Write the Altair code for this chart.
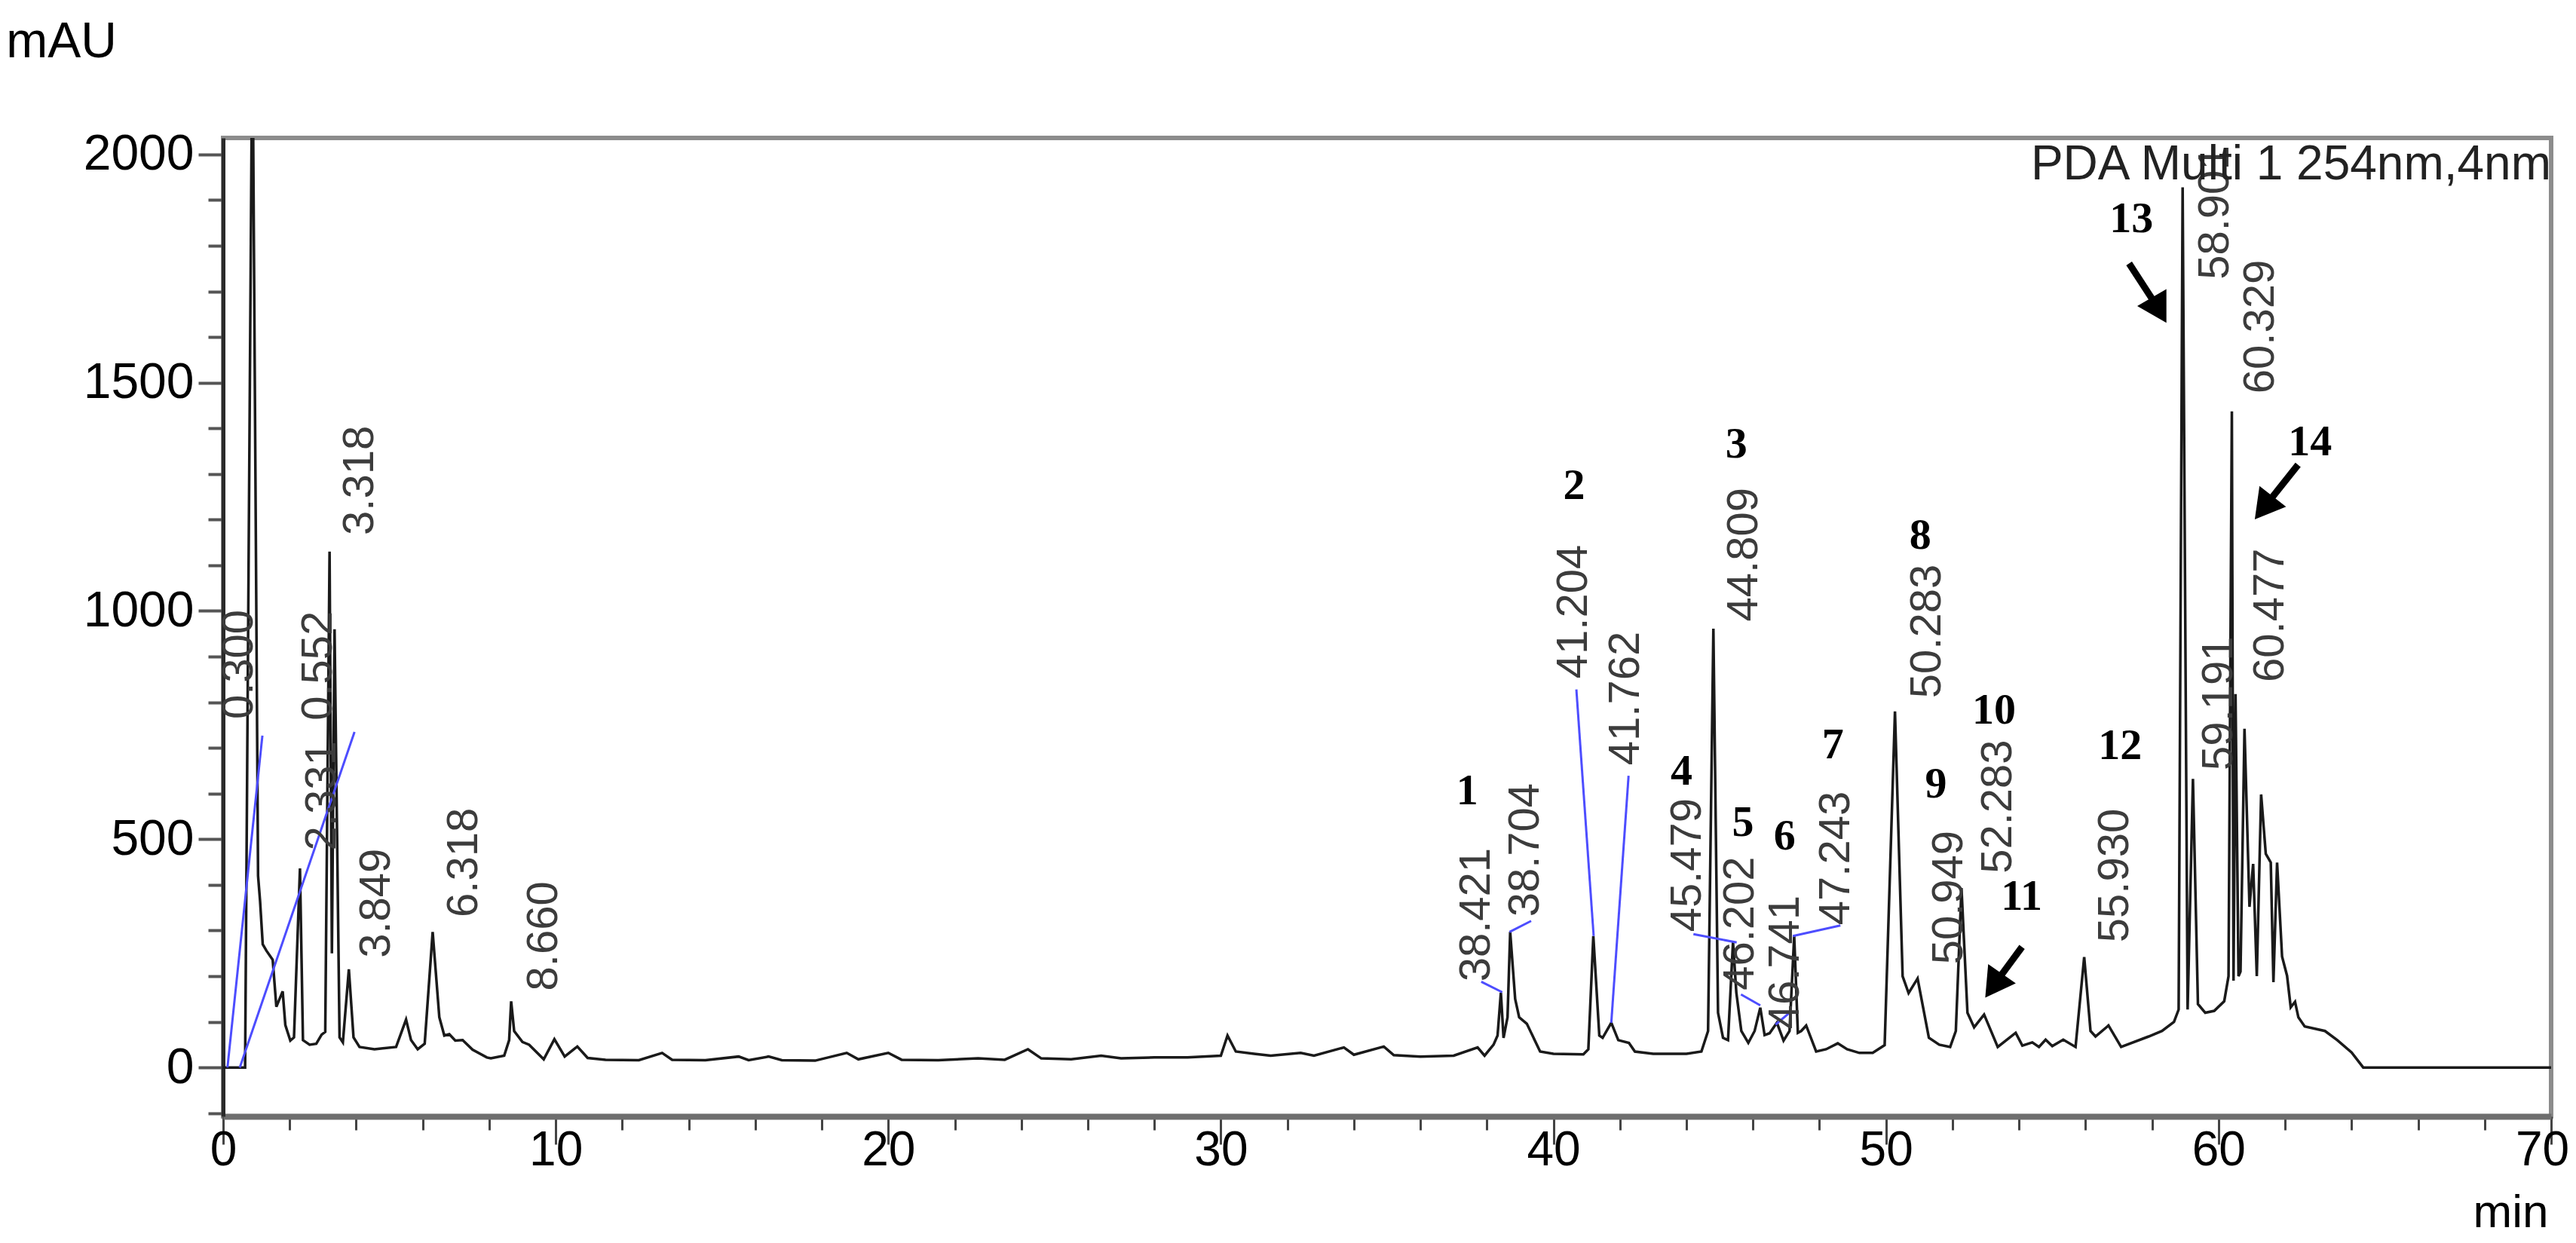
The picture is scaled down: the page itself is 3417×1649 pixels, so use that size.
import altair as alt
import pandas as pd

# ---- chromatogram trace ----
time_min = [0.00, 0.66, 0.88, 1.05, 1.11, 1.19, 1.30, 1.49, 1.60, 1.79, 1.87, 2.02, 2.13, 2.31, 2.40,
            2.60, 2.80, 2.96, 3.07, 3.20, 3.27, 3.35, 3.50, 3.60, 3.78, 3.92, 4.10, 4.55, 5.20, 5.50,
            5.65, 5.85, 6.06, 6.30, 6.50, 6.65, 6.80, 6.98, 7.20, 7.50, 7.93, 8.05, 8.45, 8.60, 8.66,
            8.75, 9.00, 9.20,
            9.64, 9.96, 10.27, 10.65, 10.96, 11.5, 12.5, 13.2, 13.5, 14.5, 15.5, 15.8, 16.4, 16.8,
            17.8, 18.75, 19.1, 20.0, 20.4, 21.5, 22.7, 23.5, 24.2, 24.6, 25.5, 26.4, 27.0, 28.0, 29.0,
            30.0, 30.2, 30.45, 31.0, 31.5, 32.4, 32.8, 33.7, 34.0, 34.9, 35.2, 36.0, 37.0, 37.72,
            37.93, 38.2, 38.32, 38.42, 38.50, 38.62, 38.70, 38.85, 38.97, 39.2, 39.6, 40.0, 40.9,
            41.05, 41.20, 41.38, 41.48, 41.74, 41.95, 42.27, 42.45, 43.0, 44.0, 44.45, 44.65, 44.81,
            44.95, 45.10, 45.25, 45.40, 45.50, 45.65, 45.86, 46.05, 46.22, 46.35, 46.50, 46.72, 46.92,
            47.10, 47.24, 47.35, 47.45, 47.60, 47.90, 48.20, 48.55, 48.83, 49.20, 49.6, 49.96, 50.27,
            50.50, 50.68, 50.95, 51.29, 51.60, 51.93, 52.10, 52.27, 52.45, 52.65, 52.95, 53.36, 53.90,
            54.10, 54.4, 54.6, 54.8, 55.0, 55.33, 55.70, 55.96, 56.15, 56.30, 56.69, 57.07, 57.9, 58.3,
            58.66, 58.80, 58.92, 59.07, 59.23, 59.38, 59.60, 59.87, 60.17, 60.30, 60.40, 60.45, 60.51,
            60.60, 60.66, 60.78, 60.93, 61.04, 61.15, 61.28, 61.42, 61.57, 61.65, 61.76, 61.91, 62.06,
            62.17, 62.30, 62.40, 62.59, 63.2, 63.57, 64.0, 64.35, 70.0]
mau = [0, 0, 2300, 420, 365, 270, 256, 236, 133, 167, 93, 59, 66, 436, 60,
       50, 52, 72, 78, 1130, 250, 960, 66, 55, 215, 66, 45, 40, 45, 105,
       60, 40, 52, 297, 110, 70, 73, 59, 60, 39, 22, 20, 26, 60, 145,
       80, 56, 50,
       18, 62, 24, 46, 21, 17, 16, 32, 17, 16, 24, 16, 24, 16,
       15, 32, 18, 32, 17, 16, 20, 17, 40, 20, 18, 26, 20, 22, 22,
       26, 70, 35, 30, 26, 32, 26, 44, 28, 46, 27, 24, 26, 44,
       26, 50, 70, 164, 65, 110, 297, 150, 110, 96, 35, 30, 29,
       40, 288, 70, 65, 98, 60, 54, 35, 30, 30, 35, 80, 961,
       120, 65, 60, 275, 164, 80, 54, 80, 131, 71, 75, 98, 59,
       80, 288, 76, 80, 92, 35, 40, 53, 40, 32, 32, 49, 780,
       200, 163, 195, 65, 50, 45, 80, 393, 120, 88, 116, 45, 76,
       48, 55, 45, 61, 47, 61, 45, 242, 80, 68, 92, 45, 68, 80,
       100, 127, 1928, 127, 632, 139, 120, 124, 145, 200, 1437, 190, 818,
       200, 210, 742, 352, 446, 200, 598, 468, 449, 187, 449, 243, 201,
       132, 144, 110, 90, 80, 60, 33, 0, 0]

# ---- retention-time labels ----
rt_text = ["0.300", "0.552", "2.331", "3.318", "3.849", "6.318", "8.660", "38.421", "38.704",
           "41.204", "41.762", "44.809", "45.479", "46.202", "46.741", "47.243", "50.283",
           "50.949", "52.283", "55.930", "58.901", "59.191", "60.329", "60.477"]
rt_t = [0.50, 2.88, 2.99, 4.12, 4.62, 7.26, 9.66, 37.70, 39.18, 40.63, 42.19, 45.75, 44.05,
        45.64, 47.00, 48.50, 51.26, 51.90, 53.39, 56.90, 59.91, 60.03, 61.27, 61.57]
rt_v = [763, 760, 475, 1166, 240, 329, 168, 188, 330, 852, 662, 977, 297, 169, 84, 312, 809,
        226, 425, 274, 1726, 651, 1476, 844]

# ---- compound numbers ----
num_text = [str(i) for i in range(1, 15)]
num_t = [37.41, 40.62, 45.50, 43.85, 45.70, 46.95, 48.40, 51.03, 51.50, 53.25, 54.08, 57.04, 57.38, 62.75]
num_v = [604, 1273, 1364, 648, 535, 505, 705, 1164, 620, 781, 373, 703, 1858, 1369]

# ---- blue leader lines ----
lead_t1 = [0.13, 0.50, 37.83, 38.68, 40.69, 42.26, 44.21, 45.64, 46.68, 47.20]
lead_v1 = [0, 0, 188, 297, 828, 639, 292, 160, 94, 288]
lead_t2 = [1.18, 3.95, 38.46, 39.33, 41.21, 41.74, 45.51, 46.22, 47.13, 48.63]
lead_v2 = [727, 735, 165, 321, 288, 98, 274, 136, 122, 311]

# ---- arrows ----
arrow_tail_t = [54.09, 57.31, 62.39]
arrow_tail_v = [264, 1761, 1320]
arrow_head_t = [53.32, 58.14, 61.45]
arrow_head_v = [188, 1668, 1234]
arrow_angle = [215, 150, 218]

x_ticks = list(range(0, 72, 2))
y_ticks = list(range(-100, 2001, 100))

trace = pd.DataFrame({"t": time_min, "v": mau})
rt = pd.DataFrame({"label": rt_text, "t": rt_t, "v": rt_v})
nums = pd.DataFrame({"label": num_text, "t": num_t, "v": num_v})
leads = pd.DataFrame({"t": lead_t1, "v": lead_v1, "t2": lead_t2, "v2": lead_v2})
arrows = pd.DataFrame({"t": arrow_tail_t, "v": arrow_tail_v, "t2": arrow_head_t,
                       "v2": arrow_head_v, "angle": arrow_angle})
pda = pd.DataFrame({"label": ["PDA Multi 1 254nm,4nm"], "t": [70.0], "v": [1946]})

xscale = alt.Scale(domain=[0, 70], nice=False, zero=False)
yscale = alt.Scale(domain=[-107, 2036], nice=False, zero=False)

x_axis = alt.Axis(
    values=x_ticks, title="min", format="d",
    labelExpr="datum.value % 10 === 0 ? datum.label : ''",
    tickSize={"condition": {"test": "datum.value % 10 === 0", "value": 37}, "value": 18},
    labelOffset={"condition": {"test": "datum.value === 70", "value": -12}, "value": 0},
    labelPadding=-24, labelFontSize=64, labelFont="Liberation Sans", labelColor="#000",
    tickColor="#444", tickWidth=3, domainColor="#6e6e6e", domainWidth=8,
    titleFontSize=62, titleFont="Liberation Sans", titleFontWeight="normal", titleColor="#000",
    titleAnchor="end", titleAlign="right", titleBaseline="alphabetic", titleX=3084, titleY=146,
    grid=False, labelFlush=False,
)
y_axis = alt.Axis(
    values=y_ticks, title="mAU", format="d",
    labelExpr="(datum.value % 500 === 0 && datum.value >= 0) ? datum.label : ''",
    tickSize={"condition": {"test": "datum.value % 500 === 0", "value": 33}, "value": 20},
    labelPadding=6, labelFontSize=66, labelFont="Liberation Sans", labelColor="#000",
    tickColor="#555", tickWidth=4, domainColor="#2a2a2a", domainWidth=5,
    titleFontSize=66, titleFont="Liberation Sans", titleFontWeight="normal", titleColor="#000",
    titleAngle=0, titleAlign="center", titleBaseline="alphabetic", titleX=-215, titleY=-108,
    grid=False,
)

line = alt.Chart(trace).mark_line(clip=True, color="#1a1a1a", strokeWidth=3.5).encode(
    x=alt.X("t:Q", scale=xscale, axis=x_axis),
    y=alt.Y("v:Q", scale=yscale, axis=y_axis),
)

lead_layer = alt.Chart(leads).mark_rule(color="#4d4dff", strokeWidth=3).encode(
    x="t:Q", y="v:Q", x2="t2:Q", y2="v2:Q")

rt_layer = alt.Chart(rt).mark_text(angle=270, align="left", baseline="middle",
                                   font="Liberation Sans", fontSize=58, color="#3c3c3c").encode(
    x="t:Q", y="v:Q", text="label:N")

num_layer = alt.Chart(nums).mark_text(align="center", baseline="middle", font="Liberation Serif",
                                      fontWeight="bold", fontSize=58, color="#000").encode(
    x="t:Q", y="v:Q", text="label:N")

shaft = alt.Chart(arrows).mark_rule(color="#000", strokeWidth=9).encode(
    x="t:Q", y="v:Q", x2="t2:Q", y2="v2:Q")
head = alt.Chart(arrows).mark_point(shape="triangle", filled=True, color="#000", size=2000,
                                    opacity=1).encode(
    x="t2:Q", y="v2:Q", angle=alt.Angle("angle:Q", scale=None))

pda_layer = alt.Chart(pda).mark_text(align="right", baseline="alphabetic", font="Liberation Sans",
                                     fontSize=64, color="#222").encode(
    x="t:Q", y="v:Q", text="label:N")

chart = alt.layer(line, lead_layer, rt_layer, num_layer, shaft, head, pda_layer).properties(
    width=3088, height=1298,
    autosize=alt.AutoSizeParams(type="none"),
    padding={"left": 288, "top": 175, "right": 25, "bottom": 160},
).configure_view(stroke="#8c8c8c", strokeWidth=6)

chart.save("out.html", embed_options={"renderer": "svg", "actions": False})
